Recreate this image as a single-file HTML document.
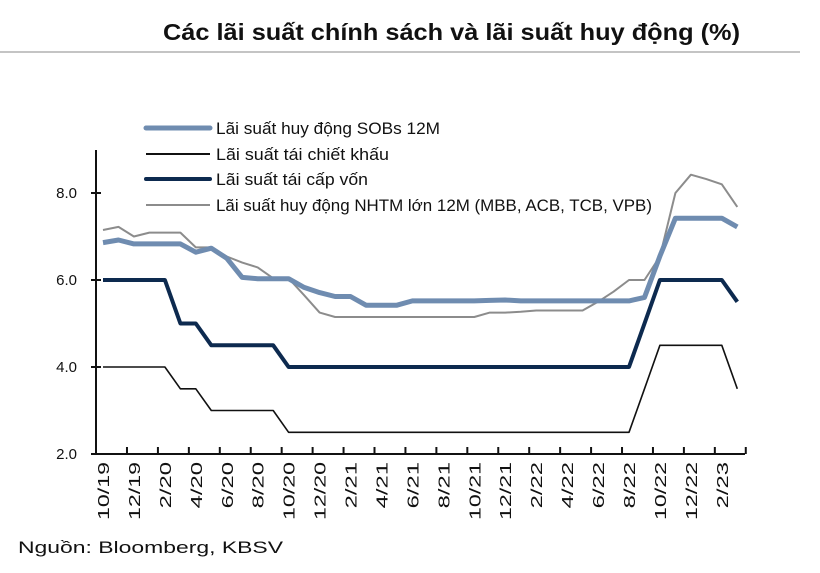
<!DOCTYPE html>
<html><head><meta charset="utf-8"><style>
body{margin:0;background:#fff;}
svg text{font-family:"Liberation Sans",sans-serif;}
</style></head><body>
<svg width="820" height="568" viewBox="0 0 820 568">
<text x="163" y="40" font-size="23" font-weight="bold" fill="#111" textLength="577" lengthAdjust="spacingAndGlyphs">Các lãi suất chính sách và lãi suất huy động (%)</text>
<line x1="0" y1="52" x2="800" y2="52" stroke="#888" stroke-width="1"/>
<g id="axes"></g>
<g id="series"></g>
<g>
 <g><line x1="146" y1="128" x2="210" y2="128" stroke="#6f8cb0" stroke-width="5" stroke-linecap="round"/><text x="216" y="134" font-size="16.5" fill="#111" textLength="224" lengthAdjust="spacingAndGlyphs">Lãi suất huy động SOBs 12M</text></g>
 <g><line x1="146" y1="154" x2="210" y2="154" stroke="#111" stroke-width="2"/><text x="216" y="160" font-size="16.5" fill="#111" textLength="173" lengthAdjust="spacingAndGlyphs">Lãi suất tái chiết khấu</text></g>
 <g><line x1="146" y1="179" x2="210" y2="179" stroke="#0d2a4f" stroke-width="4" stroke-linecap="round"/><text x="216" y="185" font-size="16.5" fill="#111" textLength="152" lengthAdjust="spacingAndGlyphs">Lãi suất tái cấp vốn</text></g>
 <g><line x1="146" y1="205" x2="210" y2="205" stroke="#8c8c8c" stroke-width="2"/><text x="216" y="211" font-size="16.5" fill="#111" textLength="436" lengthAdjust="spacingAndGlyphs">Lãi suất huy động NHTM lớn 12M (MBB, ACB, TCB, VPB)</text></g>
</g>
<text x="18" y="553" font-size="17" fill="#111" textLength="265" lengthAdjust="spacingAndGlyphs">Nguồn: Bloomberg, KBSV</text>
</svg>
<script>
const yTicks=[2.0,4.0,6.0,8.0];
const xLabels=["10/19","12/19","2/20","4/20","6/20","8/20","10/20","12/20","2/21","4/21","6/21","8/21","10/21","12/21","2/22","4/22","6/22","8/22","10/22","12/22","2/23"];
const refinancing=[6,6,6,6,6,5,5,4.5,4.5,4.5,4.5,4.5,4,4,4,4,4,4,4,4,4,4,4,4,4,4,4,4,4,4,4,4,4,4,4,5,6,6,6,6,6,5.5];
const discount=[4,4,4,4,4,3.5,3.5,3,3,3,3,3,2.5,2.5,2.5,2.5,2.5,2.5,2.5,2.5,2.5,2.5,2.5,2.5,2.5,2.5,2.5,2.5,2.5,2.5,2.5,2.5,2.5,2.5,2.5,3.5,4.5,4.5,4.5,4.5,4.5,3.5];
const sobs=[6.86,6.92,6.83,6.83,6.83,6.83,6.64,6.73,6.5,6.06,6.03,6.03,6.03,5.83,5.71,5.62,5.62,5.42,5.42,5.42,5.52,5.52,5.52,5.52,5.52,5.53,5.54,5.52,5.52,5.52,5.52,5.52,5.52,5.52,5.52,5.6,6.55,7.42,7.42,7.42,7.42,7.22];
const nhtm=[7.15,7.22,7.0,7.09,7.09,7.09,6.75,6.75,6.54,6.4,6.29,6.04,6.04,5.65,5.25,5.15,5.15,5.15,5.15,5.15,5.15,5.15,5.15,5.15,5.15,5.25,5.25,5.27,5.3,5.3,5.3,5.3,5.5,5.73,6.0,6.0,6.54,8.0,8.42,8.32,8.2,7.68];
const NS="http://www.w3.org/2000/svg";
const x0=96,xEnd=745,yTop=150,yBot=454;
function X(i){return 103+i*15.47;}
function Y(v){return 454-(v-2)*43.5;}
function mk(t,a,p){const e=document.createElementNS(NS,t);for(const k in a)e.setAttribute(k,a[k]);p.appendChild(e);return e;}
const ax=document.getElementById('axes');
let e=mk('line',{x1:x0,y1:yTop,x2:x0,y2:yBot,stroke:'#111','stroke-width':2},ax);


e=mk('line',{x1:x0,y1:yBot,x2:xEnd,y2:yBot,stroke:'#111','stroke-width':2},ax);


yTicks.forEach(v=>{
 const t=mk('line',{x1:x0-5,y1:Y(v),x2:x0+5,y2:Y(v),stroke:'#111','stroke-width':2},ax);
 
 
 const l=mk('text',{x:77,y:Y(v)+5,'text-anchor':'end','font-size':15,fill:'#111'},ax);
 l.textContent=v.toFixed(1);
 
 
});
for(let k=0;k<21;k++){
 const tx=X(1.55+2*k);
 const t=mk('line',{x1:tx,y1:yBot-7,x2:tx,y2:yBot,stroke:'#111','stroke-width':2},ax);
 
 
}
xLabels.forEach((s,k)=>{
 const lx=X(2*k)+6,ly=462;
 const l=mk('text',{x:lx,y:ly,'text-anchor':'end','font-size':16,fill:'#111',textLength:s.length*11.6,lengthAdjust:'spacingAndGlyphs',transform:`rotate(-90 ${lx} ${ly})`},ax);
 l.textContent=s;
 
 
});
const sg=document.getElementById('series');
function line(d,c,w,name){
 const p=mk('polyline',{points:d.map((v,i)=>X(i).toFixed(1)+','+Y(v).toFixed(1)).join(' '),fill:'none',stroke:c,'stroke-width':w,'stroke-linejoin':'round'},sg);
 
 
}
line(discount,'#111',1.6,'discount-rate-line');
line(nhtm,'#8c8c8c',2,'nhtm-deposit-line');
line(refinancing,'#0d2a4f',4,'refinancing-rate-line');
line(sobs,'#6f8cb0',5,'sobs-deposit-line');
</script>
</body></html>
